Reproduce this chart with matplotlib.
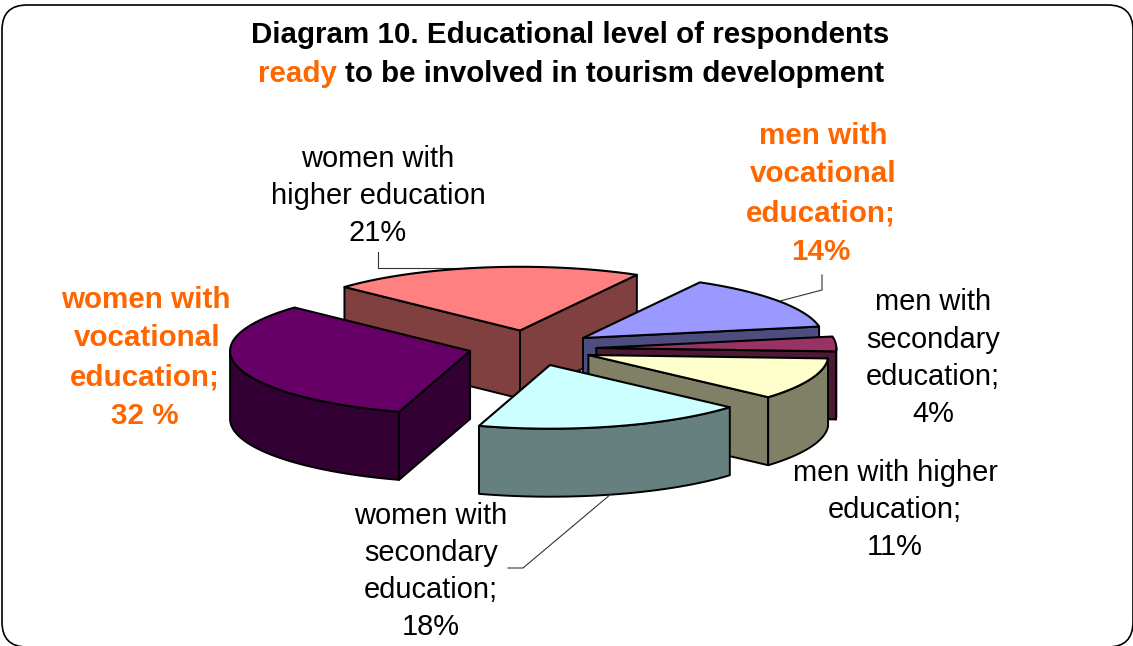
import numpy as np
import matplotlib
matplotlib.use("Agg")
import matplotlib.pyplot as plt
from matplotlib.patches import Polygon, FancyBboxPatch

plt.rcParams['font.family'] = ['Liberation Sans', 'DejaVu Sans']

categories = ["women with vocational education", "women with secondary education",
              "men with higher education", "men with secondary education",
              "men with vocational education", "women with higher education"]
values = [32, 18, 11, 4, 14, 21]
top_colors = ["#660066", "#CCFFFF", "#FFFFCC", "#993366", "#9999FF", "#FF8080"]
side_colors = ["#330033", "#668080", "#808066", "#4D1A33", "#4D4D80", "#804040"]
explode = [(-0.258, 0.076), (0.075, 0.288), (0.235, 0.136), (0.268, 0.03), (0.2125, -0.121), (-0.05, -0.235)]
angle_nudge = [0, -1, 1.5, -0.6, -2, -2.4, 0]
draw_order = [5, 4, 3, 2, 0, 1]

W, H = 1133, 646
START = 138
CX, CY, RX, RY, DEPTH = 532, 346, 240, 66, 68

fig = plt.figure(figsize=(W / 100, H / 100), dpi=100)
ax = fig.add_axes([0, 0, 1, 1])
ax.set_xlim(0, W)
ax.set_ylim(H, 0)
ax.axis('off')

ax.add_patch(FancyBboxPatch((27, 30), 1081, 592,
                            boxstyle="round,pad=25,rounding_size=25",
                            fc='white', ec='black', lw=1.2, zorder=0, clip_on=False))

angles = np.cumsum([0] + values) * 3.6 + START + np.array(angle_nudge)

def arc(cx, cy, a0, a1, dz=0):
    deg = np.linspace(a0, a1, 80)
    t = np.radians(deg)
    f = 1 - 0.035 * np.sin(t) ** 2
    return np.column_stack([cx + RX * f * np.cos(t), cy - RY * f * np.sin(t) + dz])

z = 2
for i in draw_order:
    a0, a1 = angles[i], angles[i + 1]
    cx = CX + explode[i][0] * RX
    cy = CY + explode[i][1] * RY
    kw = dict(ec='black', lw=1.4, joinstyle='round', zorder=z)
    faces = []
    if np.cos(np.radians(a0)) > 0:
        faces.append(a0)
    if np.cos(np.radians(a1)) < 0:
        faces.append(a1)
    for a in faces:
        p = arc(cx, cy, a, a, 0)[0]
        ax.add_patch(Polygon([(cx, cy), p, (p[0], p[1] + DEPTH), (cx, cy + DEPTH)],
                             fc=side_colors[i], **kw))
    # visible outer wall: only the part of the rim facing the viewer (180-360 deg)
    for lo, hi in ((180, 360), (540, 720)):
        s0, s1 = max(a0, lo), min(a1, hi)
        if s1 > s0:
            up = arc(cx, cy, s0, s1)
            down = arc(cx, cy, s1, s0, DEPTH)
            ax.add_patch(Polygon(np.vstack([up, down]), fc=side_colors[i], **kw))
    ax.add_patch(Polygon(np.vstack([[(cx, cy)], arc(cx, cy, a0, a1)]),
                         fc=top_colors[i], ec='black', lw=1.5, joinstyle='round', zorder=z))
    z += 1

# leader lines
for xs, ys in [([378, 378, 480], [252, 268, 268]),
               ([822, 822, 780], [275, 290, 301]),
               ([611, 523, 508], [494, 568, 568])]:
    ax.plot(xs, ys, color='#333333', lw=0.8, zorder=1.5 if xs[0] == 378 else 20)

ORANGE = "#FF6600"
# title
TS = 21.25
ax.text(570, 35, "Diagram 10. Educational level of respondents", ha='center', va='center',
        fontsize=TS, fontweight='bold', color='black')
ax.text(258, 74, "ready", ha='left', va='center', fontsize=TS, fontweight='bold', color=ORANGE)
ax.text(345, 74, "to be involved in tourism development", ha='left', va='center',
        fontsize=TS, fontweight='bold', color='black')

labels = [
    (["women with", "higher education", "21%"], [378, 378, 378], [159, 196, 233], 'black', 'normal'),
    (["men with", "vocational", "education;", "14%"], [823, 823, 821, 821], [136, 174, 213, 252], ORANGE, 'bold'),
    (["men with", "secondary", "education;", "4%"], [933, 933, 933, 933], [302, 340, 377, 414], 'black', 'normal'),
    (["men with higher", "education;", "11%"], [895, 895, 895], [473, 510, 547], 'black', 'normal'),
    (["women with", "secondary", "education;", "18%"], [431, 431, 431, 431], [516, 553, 590, 627], 'black', 'normal'),
    (["women with", "vocational", "education;", "32 %"], [146, 147, 145, 145], [300, 338, 377, 416], ORANGE, 'bold'),
]
for lines, xs, ys, col, wt in labels:
    fs = 21.3 if wt == 'bold' else 20.9
    for s, x, y in zip(lines, xs, ys):
        ax.text(x, y, s, ha='center', va='center', fontsize=fs, color=col, fontweight=wt, zorder=30)

fig.savefig("out.png", dpi=100)
